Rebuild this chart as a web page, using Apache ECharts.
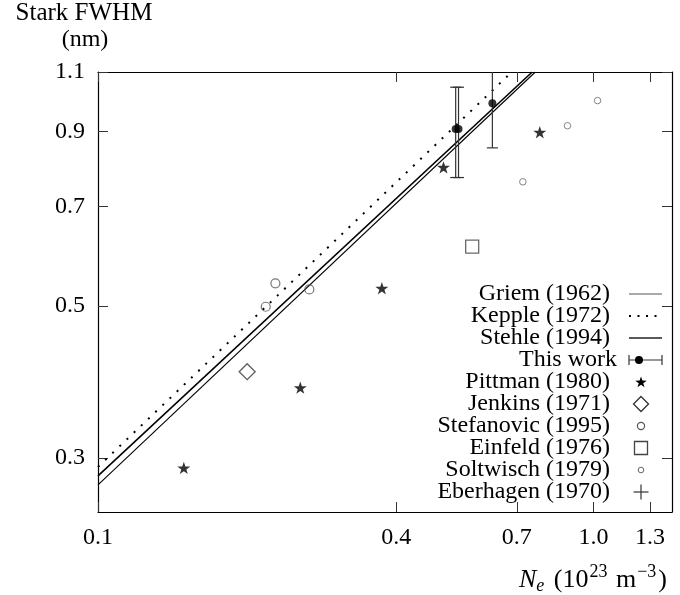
<!DOCTYPE html>
<html>
<head>
<meta charset="utf-8">
<script src="https://cdn.jsdelivr.net/npm/echarts@6/dist/echarts.min.js"></script>
<style>
  html, body { margin: 0; padding: 0; background: #fff; }
  #chart { width: 680px; height: 595px; }
</style>
</head>
<body>
<div id="chart"></div>
<script>
// Electron density Ne (10^23 m^-3) and Stark FWHM (nm) of each data set
const thisWorkNe  = [0.527, 0.534, 0.625];
const thisWorkW   = [0.908, 0.908, 0.990];
const thisWorkErr = [0.137, 0.137, 0.138];
const pittmanNe   = [0.149, 0.256, 0.374, 0.498, 0.779];
const pittmanW    = [0.290, 0.380, 0.531, 0.798, 0.898];
const jenkinsNe   = [0.200];
const jenkinsW    = [0.401];
const stefanovicNe = [0.218, 0.228, 0.267];
const stefanovicW  = [0.499, 0.540, 0.529];
const einfeldNe   = [0.569];
const einfeldW    = [0.611];
const soltwischNe = [0.720, 0.886, 1.019];
const soltwischW  = [0.760, 0.918, 0.999];
const eberhagenNe = [];
const eberhagenW  = [];

// Theoretical widths (power laws, straight on log-log axes): end points
const griemNe  = [0.1, 0.763];
const griemW   = [0.274, 1.1];
const keppleNe = [0.1, 0.684];
const keppleW  = [0.291, 1.1];
const stehleNe = [0.1, 0.752];
const stehleW  = [0.2824, 1.1];

// Axes
const xTicks = [0.1, 0.4, 0.7, 1.0, 1.3];
const yTicks = [0.3, 0.5, 0.7, 0.9, 1.1];
const xRange = [0.1, 1.44];
const yRange = [0.25, 1.1];

const legendNames = [
  'Griem (1962)', 'Kepple (1972)', 'Stehle (1994)', 'This work',
  'Pittman (1980)', 'Jenkins (1971)', 'Stefanovic (1995)',
  'Einfeld (1976)', 'Soltwisch (1979)', 'Eberhagen (1970)'
];

// Both axes are logarithmic: values are placed on value axes in log10 units
const lg = Math.log10;
const toPairs = (xs, ys) => xs.map((x, i) => [lg(x), lg(ys[i])]);
const fmt = v => Math.pow(10, v).toFixed(1);

const FONT = '"Liberation Serif", "Times New Roman", serif';
const INK = '#000';

function starPoints(R, r) {
  const pts = [];
  for (let k = 0; k < 10; k++) {
    const rad = k % 2 ? r : R;
    const a = -Math.PI / 2 + k * Math.PI / 5;
    pts.push([rad * Math.cos(a), rad * Math.sin(a)]);
  }
  return pts;
}
function toPath(pts) {
  return pts.map((p, k) => (k ? 'L' : 'M') + p[0].toFixed(3) + ',' + p[1].toFixed(3)).join('') + 'Z';
}
const STAR = toPath(starPoints(10, 3.9));
const PLUS = 'M-0.5,-6H0.5V-0.5H6V0.5H0.5V6H-0.5V0.5H-6V-0.5H-0.5Z';

const tickStyle = { color: '#333', width: 1 };
function xAxis(pos, showLabel) {
  return {
    type: 'value', position: pos,
    min: lg(xRange[0]), max: lg(xRange[1]),
    axisLine: { show: true, onZero: false, lineStyle: { color: INK, width: 1.2 } },
    axisTick: { show: true, inside: true, length: 10, customValues: xTicks.map(lg), lineStyle: tickStyle },
    axisLabel: {
      show: showLabel, customValues: xTicks.map(lg), formatter: fmt,
      fontFamily: FONT, fontSize: 24, color: INK, margin: 14
    },
    splitLine: { show: false }
  };
}
function yAxis(pos, showLabel) {
  return {
    type: 'value', position: pos,
    min: lg(yRange[0]), max: lg(yRange[1]),
    axisLine: { show: true, onZero: false, lineStyle: { color: INK, width: 1.2 } },
    axisTick: { show: true, inside: true, length: 10, customValues: yTicks.map(lg), lineStyle: tickStyle },
    axisLabel: {
      show: showLabel, customValues: yTicks.map(lg), formatter: fmt,
      fontFamily: FONT, fontSize: 24, color: INK, margin: 13
    },
    splitLine: { show: false }
  };
}

function hollow(symbol, size, stroke, width) {
  return {
    type: 'scatter', symbol: symbol, symbolSize: size, symbolKeepAspect: true,
    itemStyle: { color: 'rgba(0,0,0,0)', borderColor: stroke, borderWidth: width },
    z: 4
  };
}

const series = [
  { name: legendNames[0], type: 'line', data: toPairs(griemNe, griemW), symbol: 'none',
    lineStyle: { color: INK, width: 1.1 }, z: 2 },
  { name: legendNames[1], type: 'line', data: toPairs(keppleNe, keppleW), symbol: 'none',
    lineStyle: { color: INK, width: 2, type: [2, 7.9], cap: 'butt' }, z: 2 },
  { name: legendNames[2], type: 'line', data: toPairs(stehleNe, stehleW), symbol: 'none',
    lineStyle: { color: INK, width: 1.6 }, z: 2 },
  { name: legendNames[3] + ' error', type: 'custom', clip: true, z: 3,
    data: thisWorkNe.map((x, i) => [lg(x), lg(thisWorkW[i] - thisWorkErr[i]), lg(thisWorkW[i] + thisWorkErr[i])]),
    encode: { x: 0, y: [1, 2] },
    renderItem(params, api) {
      const x = api.value(0);
      const lo = api.coord([x, api.value(1)]);
      const hi = api.coord([x, api.value(2)]);
      const h = 5.5;
      const st = { stroke: '#333', lineWidth: 1.2 };
      return { type: 'group', children: [
        { type: 'line', shape: { x1: lo[0], y1: lo[1], x2: hi[0], y2: hi[1] }, style: st },
        { type: 'line', shape: { x1: lo[0] - h, y1: lo[1], x2: lo[0] + h, y2: lo[1] }, style: st },
        { type: 'line', shape: { x1: hi[0] - h, y1: hi[1], x2: hi[0] + h, y2: hi[1] }, style: st }
      ]};
    }
  },
  { name: legendNames[3], type: 'scatter', data: toPairs(thisWorkNe, thisWorkW),
    symbol: 'circle', symbolSize: 8, itemStyle: { color: INK }, z: 5 },
  { name: legendNames[4], type: 'scatter', data: toPairs(pittmanNe, pittmanW),
    symbol: 'path://' + STAR, symbolSize: 13, symbolKeepAspect: true, itemStyle: { color: INK }, z: 4 },
  Object.assign(hollow('diamond', 16, '#333', 1.3), { name: legendNames[5], data: toPairs(jenkinsNe, jenkinsW) }),
  Object.assign(hollow('circle', 9, '#555', 1.2), { name: legendNames[6], data: toPairs(stefanovicNe, stefanovicW) }),
  Object.assign(hollow('rect', 13, '#444', 1.3), { name: legendNames[7], data: toPairs(einfeldNe, einfeldW) }),
  Object.assign(hollow('circle', 6.5, '#666', 1), { name: legendNames[8], data: toPairs(soltwischNe, soltwischW) }),
  { name: legendNames[9], type: 'scatter', data: toPairs(eberhagenNe, eberhagenW),
    symbol: 'path://' + PLUS, symbolSize: 13, itemStyle: { color: '#333' }, z: 4 }
];

// Key: text right-aligned, sample mark to its right
const keyTextX = 610, keyMarkX = 641, keyLineX = [629, 662];
const keyRowY = legendNames.map((_, i) => 294 + i * 22);
const keyGraphics = [];
legendNames.forEach((name, i) => {
  keyGraphics.push({
    type: 'text', x: i === 3 ? 617 : keyTextX, y: keyRowY[i],
    style: { text: name, font: '24px ' + FONT, fill: INK,
      align: 'right', verticalAlign: 'middle', textAlign: 'right', textVerticalAlign: 'middle' }
  });
});
const lineSeg = (stroke, w, dash) => ({
  type: 'line', shape: { x1: keyLineX[0], y1: 0, x2: keyLineX[1], y2: 0 },
  style: { stroke: stroke, lineWidth: w, lineDash: dash || null }
});
function at(el, i) { el.y = keyRowY[i]; return el; }
keyGraphics.push(at(lineSeg('#555', 1), 0));
keyGraphics.push(at(lineSeg(INK, 2, [2, 6.5]), 1));
keyGraphics.push(at(lineSeg('#222', 1.5), 2));
keyGraphics.push({
  type: 'group', y: keyRowY[3], children: [
    lineSeg('#333', 1.2),
    { type: 'line', shape: { x1: keyLineX[0], y1: -5, x2: keyLineX[0], y2: 5 }, style: { stroke: '#333', lineWidth: 1.2 } },
    { type: 'line', shape: { x1: keyLineX[1], y1: -5, x2: keyLineX[1], y2: 5 }, style: { stroke: '#333', lineWidth: 1.2 } },
    { type: 'circle', shape: { cx: keyMarkX - 2, cy: 0, r: 4 }, style: { fill: INK } }
  ]
});
keyGraphics.push({ type: 'polygon', x: keyMarkX, y: keyRowY[4] + 0.5,
  shape: { points: starPoints(6, 2.35) }, style: { fill: INK } });
keyGraphics.push({ type: 'polygon', shape: { points: [[keyMarkX, keyRowY[5] - 7.5], [keyMarkX + 7.5, keyRowY[5]], [keyMarkX, keyRowY[5] + 7.5], [keyMarkX - 7.5, keyRowY[5]]] },
  style: { fill: 'none', stroke: '#333', lineWidth: 1.3 } });
keyGraphics.push({ type: 'circle', shape: { cx: keyMarkX, cy: keyRowY[6], r: 3.6 },
  style: { fill: 'none', stroke: '#555', lineWidth: 1.2 } });
keyGraphics.push({ type: 'rect', shape: { x: keyMarkX - 6.5, y: keyRowY[7] - 6.5, width: 13, height: 13 },
  style: { fill: 'none', stroke: '#444', lineWidth: 1.3 } });
keyGraphics.push({ type: 'circle', shape: { cx: keyMarkX, cy: keyRowY[8], r: 2.8 },
  style: { fill: 'none', stroke: '#666', lineWidth: 1 } });
keyGraphics.push({ type: 'group', x: keyMarkX, y: keyRowY[9], children: [
  { type: 'line', shape: { x1: -7.5, y1: 0, x2: 7.5, y2: 0 }, style: { stroke: '#333', lineWidth: 1.2 } },
  { type: 'line', shape: { x1: 0, y1: -7.5, x2: 0, y2: 7.5 }, style: { stroke: '#333', lineWidth: 1.2 } }
]});

// Axis titles
const titles = [
  { type: 'text', x: 84, y: 13,
    style: { text: 'Stark FWHM', font: '25px ' + FONT, fill: INK,
      align: 'center', verticalAlign: 'middle', textAlign: 'center', textVerticalAlign: 'middle' } },
  { type: 'text', x: 85, y: 40,
    style: { text: '(nm)', font: '24px ' + FONT, fill: INK,
      align: 'center', verticalAlign: 'middle', textAlign: 'center', textVerticalAlign: 'middle' } },
  { type: 'text', x: 667, y: 580,
    style: {
      text: '{i|N}{sub|e}{n| (10}{sup|23}{n| m}{sup|−3}{n|)}',
      align: 'right', verticalAlign: 'middle', textAlign: 'right', textVerticalAlign: 'middle',
      rich: {
        i:   { fontFamily: FONT, fontSize: 26, fontStyle: 'italic', fill: INK, color: INK },
        sub: { fontFamily: FONT, fontSize: 18, fontStyle: 'italic', fill: INK, color: INK, padding: [12, 3, 0, 0] },
        n:   { fontFamily: FONT, fontSize: 26, fill: INK, color: INK },
        sup: { fontFamily: FONT, fontSize: 18, fill: INK, color: INK, padding: [0, 2, 16, 1] }
      }
    } }
];

const chart = echarts.init(document.getElementById('chart'), null, { renderer: 'canvas' });
chart.setOption({
  animation: false,
  backgroundColor: '#fff',
  grid: { left: 98, right: 8, top: 72, bottom: 83, containLabel: false, outerBoundsMode: 'none' },
  xAxis: [xAxis('bottom', true), xAxis('top', false)],
  yAxis: [yAxis('left', true), yAxis('right', false)],
  series: series,
  graphic: { elements: titles.concat(keyGraphics) }
});
</script>
</body>
</html>
